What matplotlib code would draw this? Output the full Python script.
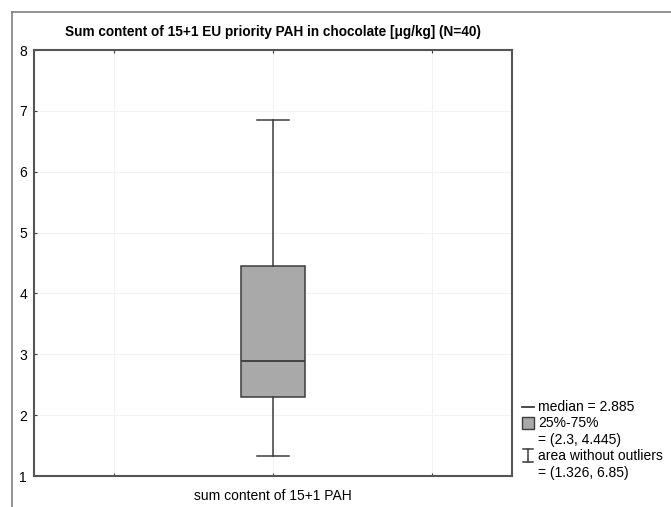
"""
Box plot: sum content of 15+1 EU priority PAH in chocolate
"""
import matplotlib
matplotlib.use('Agg')
import matplotlib.pyplot as plt
from matplotlib.lines import Line2D
from matplotlib.patches import Rectangle

# ###
# data
# ###
CATEGORIES = ['sum content of 15+1 PAH']
MEDIAN     = [2.885]
Q1         = [2.3]
Q3         = [4.445]
WHIS_LOW   = [1.326]
WHIS_HIGH  = [6.85]
Y_TICKS    = [1, 2, 3, 4, 5, 6, 7, 8]

TITLE = 'Sum content of 15+1 EU priority PAH in chocolate [\u03bcg/kg] (N=40)'

# figure variables
EDGE_COLOR = '#3c3c3c'
BOX_COLOR  = '#a9a9a9'
GRID_COLOR = '#f2f2f2'
FONT_SIZE  = 10

plt.rcParams['font.family'] = ['Liberation Sans', 'DejaVu Sans']

fig = plt.figure(figsize=(6.71, 5.07), dpi=100, facecolor='w')
ax = fig.add_axes([0.0507, 0.0611, 0.7124, 0.8402])

# outer frame (left and top only)
fig.add_artist(Line2D([12 / 671, 12 / 671], [0, 1 - 12 / 507], color='#808080', lw=1.2))
fig.add_artist(Line2D([12 / 671, 1], [1 - 12 / 507, 1 - 12 / 507], color='#808080', lw=1.2))

# box plot built from the stats
stats = []
for i in range(len(CATEGORIES)):
    stats.append({'med': MEDIAN[i], 'q1': Q1[i], 'q3': Q3[i],
                  'whislo': WHIS_LOW[i], 'whishi': WHIS_HIGH[i],
                  'fliers': [], 'label': CATEGORIES[i]})
ax.bxp(stats, positions=[1], widths=0.4, patch_artist=True, showfliers=False,
       boxprops={'facecolor': BOX_COLOR, 'edgecolor': EDGE_COLOR, 'linewidth': 1.1},
       medianprops={'color': EDGE_COLOR, 'linewidth': 1.3},
       whiskerprops={'color': EDGE_COLOR, 'linewidth': 1.1},
       capprops={'color': EDGE_COLOR, 'linewidth': 1.1}, capwidths=0.2)

ax.set_xlim(-0.5, 2.5)
ax.set_ylim(1, 8)
ax.set_xticks([0, 1, 2])
ax.set_xticklabels(['', CATEGORIES[0], ''], fontsize=FONT_SIZE)
ax.set_yticks(Y_TICKS)
ax.set_yticklabels([str(v) for v in Y_TICKS], fontsize=FONT_SIZE)
ax.grid(True, color=GRID_COLOR, linewidth=0.8)
ax.set_axisbelow(True)
ax.tick_params(axis='both', direction='in', length=2, width=0.8, color=EDGE_COLOR,
               top=True, right=False)
ax.tick_params(axis='x', pad=9)
ax.tick_params(axis='y', pad=5)
for sp in ax.spines.values():
    sp.set_color('#555555')
    sp.set_linewidth(1.5)
ax.set_title(TITLE, fontsize=9.8, fontweight='bold', pad=10)

# legend drawn by hand to the right of the axes
lx = 522 / 671
tx = 538 / 671
rows = [407, 423, 440, 456, 473]
def fy(py):
    return 1 - py / 507

fig.add_artist(Line2D([lx, lx + 12 / 671], [fy(rows[0]), fy(rows[0])], color=EDGE_COLOR, lw=1.3))
fig.text(tx, fy(rows[0]), 'median = {0}'.format(MEDIAN[0]), fontsize=FONT_SIZE, va='center')
fig.add_artist(Rectangle((lx, fy(rows[1] + 6)), 12 / 671, 12 / 507,
                         facecolor=BOX_COLOR, edgecolor=EDGE_COLOR, lw=1.0))
fig.text(tx, fy(rows[1]), '25%-75%', fontsize=FONT_SIZE, va='center')
fig.text(tx, fy(rows[2]), '= ({0}, {1})'.format(Q1[0], Q3[0]), fontsize=FONT_SIZE, va='center')
cx = lx + 6 / 671
fig.add_artist(Line2D([cx, cx], [fy(rows[3] - 7), fy(rows[3] + 6)], color=EDGE_COLOR, lw=1.1))
fig.add_artist(Line2D([cx - 5 / 671, cx + 5 / 671], [fy(rows[3] - 7), fy(rows[3] - 7)], color=EDGE_COLOR, lw=1.1))
fig.add_artist(Line2D([cx - 5 / 671, cx + 5 / 671], [fy(rows[3] + 6), fy(rows[3] + 6)], color=EDGE_COLOR, lw=1.1))
fig.text(tx, fy(rows[3]), 'area without outliers', fontsize=FONT_SIZE, va='center')
fig.text(tx, fy(rows[4]), '= ({0}, {1})'.format(WHIS_LOW[0], WHIS_HIGH[0]), fontsize=FONT_SIZE, va='center')

plt.savefig('out.png', dpi=100)
plt.close(fig)
